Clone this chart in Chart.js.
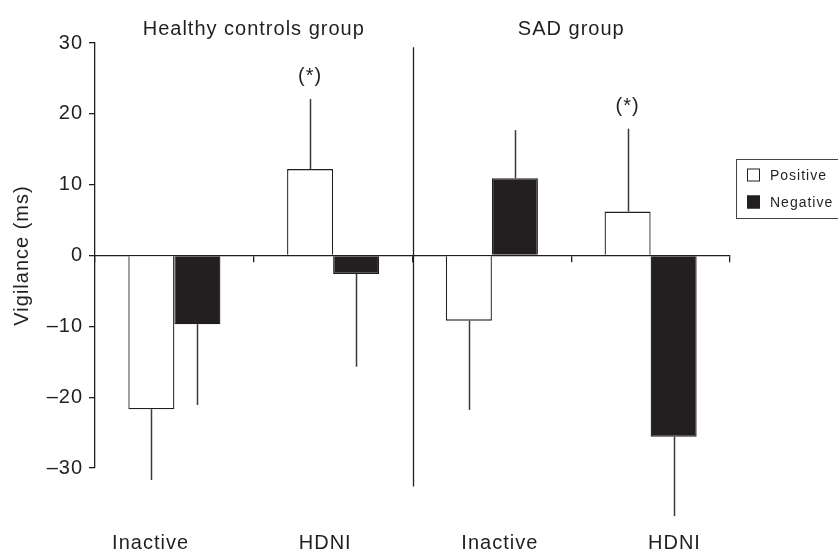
<!DOCTYPE html>
<html>
<head>
<meta charset="utf-8">
<script src="https://cdn.jsdelivr.net/npm/chart.js@4"></script>
<style>
  html, body { margin: 0; padding: 0; background: #fff; }
  #wrap { width: 838px; height: 552px; position: relative; }
</style>
</head>
<body>
<div id="wrap"><canvas id="chart"></canvas></div>
<script>
// values
const categories = ['Inactive', 'HDNI', 'Inactive', 'HDNI'];
const groups = ['Healthy controls group', 'SAD group'];
const positive = [-21.7, 12.2, -9.2, 6.2];
const negative = [-9.7, -2.6, 10.9, -25.6];
const positiveErr = [10.0, 9.9, 12.6, 11.7];
const negativeErr = [11.4, 13.1, 6.8, 11.2];
const significance = ['', '(*)', '', '(*)']; // over the positive bars
const yTicks = [-30, -20, -10, 0, 10, 20, 30];
const dividerSpan = [29.4, -32.6];

const ink = '#231f20';
const font = 'Liberation Sans, Arial, Helvetica, sans-serif';

// error bars: one whisker pointing away from zero
const errorBars = {
  id: 'errorBars',
  afterDatasetsDraw(chart) {
    const ctx = chart.ctx;
    const y = chart.scales.y;
    const errs = [positiveErr, negativeErr];
    ctx.save();
    ctx.strokeStyle = '#3a3a3a';
    ctx.lineWidth = 1.5;
    chart.data.datasets.forEach((ds, d) => {
      chart.getDatasetMeta(d).data.forEach((bar, i) => {
        const v = ds.data[i];
        const tip = y.getPixelForValue(v + Math.sign(v) * errs[d][i]);
        ctx.beginPath();
        ctx.moveTo(Math.round(bar.x) + 0.5, bar.y);
        ctx.lineTo(Math.round(bar.x) + 0.5, tip);
        ctx.stroke();
      });
    });
    ctx.restore();
  }
};

// group divider, titles, category labels, significance marks, legend
const decorations = {
  id: 'decorations',
  beforeUpdate(chart) { chart.ctx.letterSpacing = '1px'; },
  beforeDraw(chart) { chart.ctx.letterSpacing = '1px'; },
  afterDraw(chart) {
    const ctx = chart.ctx;
    const x = chart.scales.x;
    const y = chart.scales.y;
    ctx.save();
    ctx.letterSpacing = '1px';
    ctx.fillStyle = ink;
    ctx.strokeStyle = ink;

    // divider between the two groups
    const divX = Math.round((x.getPixelForValue(1) + x.getPixelForValue(2)) / 2) + 0.5;
    ctx.lineWidth = 1.3;
    ctx.beginPath();
    ctx.moveTo(divX, y.getPixelForValue(dividerSpan[0]));
    ctx.lineTo(divX, y.getPixelForValue(dividerSpan[1]));
    ctx.stroke();

    // group titles
    ctx.font = '20px ' + font;
    ctx.textAlign = 'center';
    ctx.textBaseline = 'alphabetic';
    groups.forEach((g, k) => {
      const cx = (x.getPixelForValue(2 * k) + x.getPixelForValue(2 * k + 1)) / 2;
      ctx.fillText(g, cx, 35);
    });

    // category labels along the bottom
    const mid = (chart.chartArea.left + chart.chartArea.right) / 2;
    ctx.textBaseline = 'middle';
    categories.forEach((c, i) => {
      const px = mid + (x.getPixelForValue(i) - mid) * 1.1;
      ctx.fillText(c, px, 543);
    });

    // significance marks above the positive bars' whiskers
    const posMeta = chart.getDatasetMeta(0).data;
    significance.forEach((s, i) => {
      if (!s) return;
      const tip = y.getPixelForValue(positive[i] + positiveErr[i]);
      ctx.fillText(s, posMeta[i].x, tip - 22);
    });

    // legend box
    ctx.lineWidth = 1;
    ctx.strokeStyle = '#444';
    ctx.strokeRect(736.5, 159.5, 120, 59);
    ctx.font = '14px ' + font;
    ctx.textAlign = 'left';
    chart.data.datasets.forEach((ds, d) => {
      const cy = 175 + d * 27;
      ctx.fillStyle = ds.backgroundColor;
      ctx.fillRect(747, cy - 6.5, 13, 13);
      ctx.strokeStyle = ink;
      ctx.strokeRect(747.5, cy - 6, 12, 12);
      ctx.fillStyle = ink;
      ctx.fillText(ds.label, 770, cy + 1);
    });
    ctx.restore();
  }
};

new Chart(document.getElementById('chart'), {
  type: 'bar',
  data: {
    labels: categories,
    datasets: [
      {
        label: 'Positive',
        data: positive,
        backgroundColor: '#ffffff',
        borderColor: ink,
        borderWidth: 1.3
      },
      {
        label: 'Negative',
        data: negative,
        backgroundColor: ink,
        borderColor: ink,
        borderWidth: 1.3
      }
    ]
  },
  options: {
    responsive: true,
    maintainAspectRatio: false,
    animation: false,
    layout: { padding: { left: 0, right: 108, top: 43, bottom: 84 } },
    datasets: { bar: { categoryPercentage: 0.58, barPercentage: 1.0 } },
    plugins: {
      legend: { display: false },
      tooltip: { enabled: false }
    },
    scales: {
      x: {
        position: { y: 0 },
        grid: { display: true, drawOnChartArea: false, offset: true, tickLength: 6, color: ink, lineWidth: 1.3 },
        border: { display: true, color: ink, width: 1.3 },
        ticks: { display: false }
      },
      y: {
        min: -30,
        max: 30,
        afterBuildTicks(scale) { scale.ticks = yTicks.map(v => ({ value: v })); },
        afterFit(scale) { scale.width = 95; },
        grid: { drawOnChartArea: false, tickLength: 6, color: ink, lineWidth: 1.3 },
        border: { display: true, color: ink, width: 1.3 },
        ticks: {
          color: ink,
          padding: 6,
          font: { size: 20, family: font },
          callback: v => (v < 0 ? '\u2013' + Math.abs(v) : String(v))
        },
        title: {
          display: true,
          text: 'Vigilance (ms)',
          color: ink,
          font: { size: 20, family: font },
          padding: { top: 10, bottom: 0 }
        }
      }
    }
  },
  plugins: [errorBars, decorations]
});
</script>
</body>
</html>
